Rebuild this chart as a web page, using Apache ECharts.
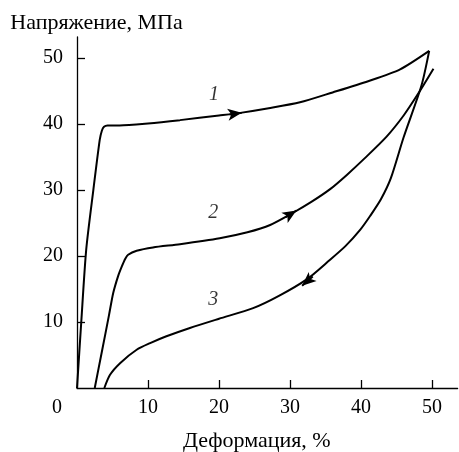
<!DOCTYPE html>
<html>
<head>
<meta charset="utf-8">
<script src="https://cdn.jsdelivr.net/npm/echarts@6/dist/echarts.min.js"></script>
<style>
  html, body { margin: 0; padding: 0; background: #fff; }
  #chart { width: 459px; height: 452px; }
</style>
</head>
<body>
<div id="chart"></div>
<script>
// Stress–strain curves: loading (1), reloading (2) and unloading (3)
const curve1X = [0, 0.6, 1.3, 2.3, 3.2, 3.5, 3.8, 4.3, 6, 10, 14.5, 20, 23, 27, 31.4, 36, 41, 45.5, 49.6];
const curve1Y = [0, 10, 21, 30, 37.6, 39.0, 39.6, 39.8, 39.8, 40.1, 40.6, 41.3, 41.7, 42.4, 43.3, 44.8, 46.5, 48.3, 51.1];

const curve2X = [2.5, 3.5, 4.5, 5.1, 5.8, 6.3, 6.8, 7.2, 8.4, 10.7, 14.5, 20.1, 24, 27.2, 30.5, 33, 35.6, 38, 40.5, 43.6, 46, 48.1, 50.2];
const curve2Y = [0, 5.5, 11, 14.4, 17, 18.4, 19.6, 20.2, 20.8, 21.3, 21.8, 22.7, 23.6, 24.7, 26.6, 28.2, 30.1, 32.3, 34.8, 38.1, 41.3, 44.7, 48.4];

const curve3X = [49.6, 48.5, 46.0, 44.2, 42.8, 41.3, 39.9, 37.8, 35.6, 32.4, 28.5, 24.8, 20, 15.9, 12.5, 10.3, 8.4, 6.1, 4.65, 3.85];
const curve3Y = [51.1, 45.8, 38.0, 31.8, 28.6, 26.1, 24.0, 21.5, 19.4, 16.5, 14.0, 12.1, 10.5, 9.1, 7.8, 6.8, 5.8, 3.8, 2.0, 0];

// Direction arrows: [from, to] along each curve
const arrow1 = [[21.5, 41.45], [23.2, 41.7]];
const arrow2 = [[29.4, 25.9], [30.9, 26.9]];
const arrow3 = [[33.2, 16.9], [31.7, 15.5]];

// Curve numbers
const curveNames = ['1', '2', '3'];
const namePos = [[19.3, 44.5], [19.2, 26.5], [19.2, 13.4]];

const xTicks = [10, 20, 30, 40, 50];
const yTicks = [10, 20, 30, 40, 50];

const serif = '"Liberation Serif", "DejaVu Serif", serif';
const zip = (xs, ys) => xs.map((x, i) => [x, ys[i]]);

function curve(xs, ys, arrow) {
  return {
    type: 'line',
    data: zip(xs, ys),
    showSymbol: false,
    smooth: 0.25,
    lineStyle: { color: '#000', width: 2 },
    silent: true,
    markLine: {
      silent: true,
      symbol: ['none', 'arrow'],
      symbolSize: [9, 14],
      label: { show: false },
      lineStyle: { color: '#000', width: 2, type: 'solid' },
      data: [[{ coord: arrow[0] }, { coord: arrow[1] }]],
      animation: false
    }
  };
}

const chart = echarts.init(document.getElementById('chart'), null, { renderer: 'canvas' });
chart.setOption({
  animation: false,
  backgroundColor: '#fff',
  grid: { left: 77, right: 1.4, top: 37, bottom: 64, outerBoundsMode: 'none', containLabel: false },
  xAxis: {
    type: 'value',
    min: 0, max: 53.6, interval: 10,
    name: 'Деформация, %',
    nameLocation: 'middle',
    nameGap: 42,
    nameTextStyle: { fontFamily: serif, fontSize: 22, color: '#000', padding: [0, 21, 0, 0] },
    axisLine: { lineStyle: { color: '#000', width: 1.3 } },
    axisTick: { inside: true, length: 8, lineStyle: { color: '#000', width: 1.3 }, customValues: xTicks },
    axisLabel: { customValues: xTicks, margin: 10, fontFamily: serif, fontSize: 20, color: '#000' },
    splitLine: { show: false }
  },
  yAxis: {
    type: 'value',
    min: 0, max: 53.2, interval: 10,
    name: 'Напряжение, МПа',
    nameLocation: 'end',
    nameGap: 3,
    nameTextStyle: { fontFamily: serif, fontSize: 22, color: '#000', padding: [0, 0, 0, 39] },
    axisLine: { lineStyle: { color: '#000', width: 1.3 } },
    axisTick: { inside: true, length: 8, lineStyle: { color: '#000', width: 1.3 }, customValues: yTicks },
    axisLabel: { customValues: yTicks, margin: 14, fontFamily: serif, fontSize: 20, color: '#000' },
    splitLine: { show: false }
  },
  graphic: [{
    type: 'text', left: 52, top: 398,
    style: { text: '0', font: '20px ' + serif, fill: '#000' }
  }],
  series: [
    curve(curve1X, curve1Y, arrow1),
    curve(curve2X, curve2Y, arrow2),
    curve(curve3X, curve3Y, arrow3),
    {
      type: 'scatter',
      symbolSize: 0,
      silent: true,
      data: curveNames.map((n, i) => ({ name: n, value: namePos[i] })),
      label: {
        show: true, position: 'inside', formatter: '{b}',
        fontFamily: serif, fontStyle: 'italic', fontSize: 20, color: '#000'
      }
    }
  ]
});
</script>
</body>
</html>
